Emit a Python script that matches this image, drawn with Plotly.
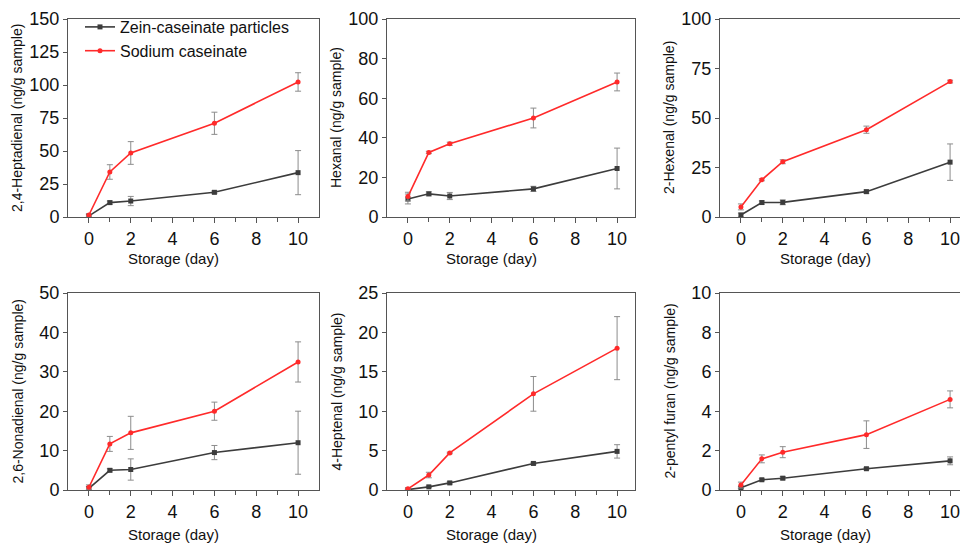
import plotly.graph_objects as go

days = [0, 1, 2, 6, 10]

titles = [
    "2,4-Heptadienal (ng/g sample)",
    "Hexanal (ng/g sample)",
    "2-Hexenal (ng/g sample)",
    "2,6-Nonadienal (ng/g sample)",
    "4-Heptenal (ng/g sample)",
    "2-pentyl furan (ng/g sample)",
]

zein_vals = [
    [0.8, 10.9, 12.1, 18.7, 33.6],
    [9.1, 11.7, 10.6, 14.2, 24.5],
    [1.0, 7.3, 7.4, 12.8, 27.7],
    [0.4, 5.0, 5.2, 9.5, 12.0],
    [0.05, 0.4, 0.9, 3.37, 4.9],
    [0.12, 0.52, 0.6, 1.08, 1.48],
]
zein_err = [
    [1.0, 1.2, 3.5, 1.0, 16.7],
    [2.5, 1.0, 1.8, 1.3, 10.3],
    [1.0, 0.8, 1.2, 0.8, 9.2],
    [0.5, 0.4, 2.7, 1.8, 8.0],
    [0.05, 0.1, 0.15, 0.15, 0.85],
    [0.05, 0.05, 0.08, 0.05, 0.2],
]
sodium_vals = [
    [1.5, 34.1, 48.5, 71.0, 102.3],
    [10.3, 32.6, 37.0, 50.0, 68.2],
    [5.1, 18.8, 27.9, 44.1, 68.4],
    [0.7, 11.7, 14.5, 20.0, 32.5],
    [0.15, 1.9, 4.7, 12.2, 18.0],
    [0.25, 1.58, 1.92, 2.81, 4.6],
]
sodium_err = [
    [1.0, 5.5, 8.6, 8.4, 7.0],
    [2.2, 0.6, 0.8, 5.0, 4.5],
    [1.5, 0.5, 1.0, 1.8, 0.7],
    [0.6, 1.9, 4.2, 2.3, 5.1],
    [0.1, 0.35, 0.1, 2.2, 4.0],
    [0.15, 0.2, 0.28, 0.7, 0.43],
]
y_max = [150, 100, 100, 50, 25, 10]
y_dtick = [25, 20, 25, 10, 5, 2]

series_names = ["Zein-caseinate particles", "Sodium caseinate"]

W, H = 960, 544
col_px = [(68, 319), (387, 635), (720, 960)]
row_px = [(19, 217), (293, 490)]
title_shift = [-41, -44]
px_per_unit = 251 / 12.0

BLACK = "#3c3c3c"
RED = "#ff2a2a"
ERR = "#8c8c8c"
AXC = "#555555"
FONT = "Arial, Liberation Sans, sans-serif"

fig = go.Figure()
annotations = []
layout = {}
for i in range(6):
    r, c = divmod(i, 3)
    n = i + 1
    xa = "x" if n == 1 else f"x{n}"
    ya = "y" if n == 1 else f"y{n}"
    x0, x1 = col_px[c]
    y0, y1 = row_px[r]
    for k, (vals, errs, col, sym) in enumerate([
        (zein_vals[i], zein_err[i], BLACK, "square"),
        (sodium_vals[i], sodium_err[i], RED, "circle"),
    ]):
        fig.add_trace(go.Scatter(
            x=days, y=vals, xaxis=xa, yaxis=ya,
            mode="lines+markers",
            name=series_names[k],
            showlegend=(i == 0),
            line=dict(color=col, width=1.6),
            marker=dict(color=col, size=5, symbol=sym),
            error_y=dict(type="data", array=errs, visible=True,
                         color=ERR, thickness=1, width=3),
        ))
    xmax = -1 + (x1 - x0) / px_per_unit
    layout["xaxis" if n == 1 else f"xaxis{n}"] = dict(
        domain=[x0 / W, x1 / W], anchor=ya, range=[-1, xmax],
        tickvals=[0, 2, 4, 6, 8, 10], ticks="outside", ticklen=5,
        tickwidth=1, tickcolor=AXC,
        minor=dict(tickvals=[1, 3, 5, 7, 9], ticks="outside", ticklen=4,
                   tickcolor=AXC, tickwidth=1),
        showline=True, linecolor=AXC, linewidth=1, mirror=True,
        showgrid=False, zeroline=False, automargin=False,
        ticklabeloverflow="allow",
        tickfont=dict(family=FONT, size=18, color="#111"),
    )
    layout["yaxis" if n == 1 else f"yaxis{n}"] = dict(
        domain=[1 - y1 / H, 1 - y0 / H], anchor=xa, range=[0, y_max[i]],
        dtick=y_dtick[i], ticks="outside", ticklen=4, tickwidth=1,
        tickcolor=AXC, showline=True, linecolor=AXC, linewidth=1,
        mirror=(c != 2), showgrid=False, zeroline=False, automargin=False,
        ticklabeloverflow="allow",
        tickfont=dict(family=FONT, size=18, color="#111"),
    )
    annotations.append(dict(
        text=titles[i], xref=f"{xa} domain", yref=f"{ya} domain",
        x=0, y=0.5, xshift=-51, textangle=-90, showarrow=False,
        xanchor="center", yanchor="middle",
        font=dict(family=FONT, size=14, color="#111"),
    ))
    annotations.append(dict(
        text="Storage (day)", xref=f"{xa} domain", yref=f"{ya} domain",
        x=0.5,
        xshift=-20 if c != 2 else -20 - (x1 - x0 - 251) / 2,
        y=0, yshift=title_shift[r], showarrow=False,
        xanchor="center", yanchor="middle",
        font=dict(family=FONT, size=15, color="#111"),
    ))

fig.update_layout(
    **layout,
    annotations=annotations,
    width=W, height=H,
    margin=dict(l=0, r=0, t=0, b=0, pad=0, autoexpand=False),
    paper_bgcolor="white", plot_bgcolor="white",
    showlegend=True,
    legend=dict(x=80 / W, y=1 - 10 / H, xanchor="left", yanchor="top",
                bgcolor="rgba(0,0,0,0)",
                font=dict(family=FONT, size=16, color="#111"),
                tracegroupgap=0, itemwidth=30),
    font=dict(family=FONT),
)

fig.write_html(
    "out.html",
    config={"displayModeBar": False},
    post_script="document.body.style.margin='0';document.body.style.overflow='hidden';",
)
